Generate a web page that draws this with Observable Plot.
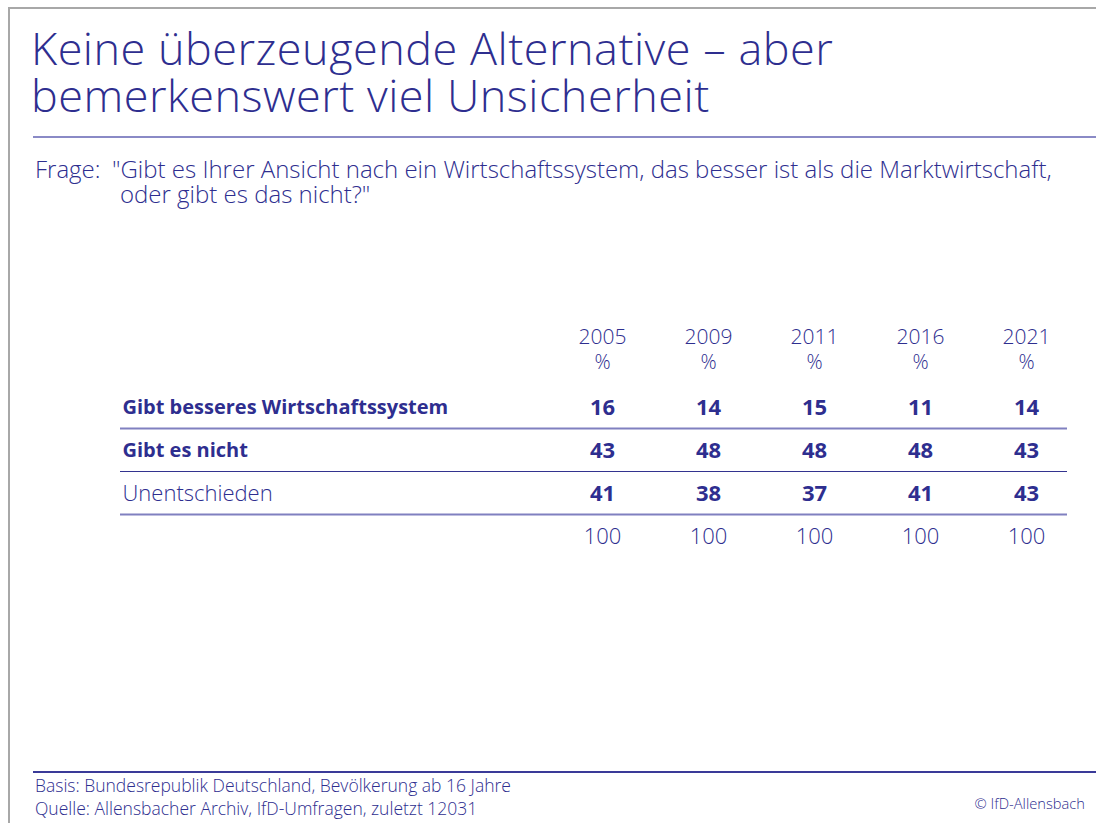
<!DOCTYPE html>
<html><head><meta charset="utf-8">
<script src="https://cdn.jsdelivr.net/npm/d3@7"></script>
<script src="https://cdn.jsdelivr.net/npm/@observablehq/plot@0.6"></script>
<style>
body{margin:0;background:#fff;font-family:"Open Sans",Lato,sans-serif;color:#2e2e8f;}
#page{position:relative;width:1096px;height:823px;overflow:hidden;}
#page div{white-space:nowrap}
#frameL{position:absolute;left:8px;top:7px;width:2px;height:816px;background:#a8a8a8}
#frameT{position:absolute;left:8px;top:7px;right:0;height:2px;background:#a8a8a8}
.title{position:absolute;left:31px;font-size:45px;font-weight:300;line-height:45px;letter-spacing:0.5px}
#rule1{position:absolute;left:33px;right:0;top:136px;height:2px;background:#8a8ac6}
.frage{position:absolute;font-size:24px;font-weight:300;line-height:24px}
#chart{position:absolute;left:0;top:300px}
#rule2{position:absolute;left:33px;right:0;top:771px;height:1.5px;background:#3a3a98}
.foot{position:absolute;left:35px;font-size:17.5px;font-weight:300;line-height:17.5px}
#copy{position:absolute;right:11px;top:796px;font-size:14.7px;font-weight:300;line-height:14.7px}
</style></head>
<body><div id="page">
<div id="frameL"></div><div id="frameT"></div>
<div class="title" style="top:25px">Keine überzeugende Alternative – aber</div>
<div class="title" style="top:72px">bemerkenswert viel Unsicherheit</div>
<div id="rule1"></div>
<div class="frage" style="left:35px;top:157px">Frage:</div>
<div class="frage" style="left:112px;top:157px">"Gibt es Ihrer Ansicht nach ein Wirtschaftssystem, das besser ist als die Marktwirtschaft,</div>
<div class="frage" style="left:120px;top:182px">oder gibt es das nicht?"</div>
<div id="chart"></div>
<div id="rule2"></div>
<div class="foot" style="top:777px">Basis: Bundesrepublik Deutschland, Bevölkerung ab 16 Jahre</div>
<div class="foot" style="top:800px">Quelle: Allensbacher Archiv, IfD-Umfragen, zuletzt 12031</div>
<div id="copy">© IfD-Allensbach</div>
</div>
<script>
const years = ["2005", "2009", "2011", "2016", "2021"];
const rows = ["Gibt besseres Wirtschaftssystem", "Gibt es nicht", "Unentschieden"];
const boldRows = ["Gibt besseres Wirtschaftssystem", "Gibt es nicht"];
const besser = [16, 14, 15, 11, 14];
const nicht = [43, 48, 48, 48, 43];
const unentschieden = [41, 38, 37, 41, 43];
const summe = [100, 100, 100, 100, 100];
const totalKey = "Summe";

const series = [besser, nicht, unentschieden];
const cells = [];
rows.forEach((r, i) => years.forEach((y, j) => cells.push({row: r, year: y, value: series[i][j]})));
const totals = years.map((y, j) => ({row: totalKey, year: y, value: summe[j]}));

const blue = "#2e2e8f";
const font = "'Open Sans', Lato, sans-serif";
const chart = Plot.plot({
  width: 1096, height: 260,
  marginLeft: 120, marginRight: 29, marginTop: 0, marginBottom: 0,
  x: {type: "point", domain: years, range: [600, 1027], padding: 0, axis: null},
  y: {type: "point", domain: [...rows, totalKey], range: [107, 236], padding: 0, axis: null},
  style: {fontFamily: font, color: blue, background: "transparent"},
  marks: [
    Plot.ruleY(rows, {y: d => d, dy: 21, stroke: (d, i) => i === 1 ? "#33338f" : "#8080c0", strokeWidth: (d, i) => i === 1 ? 1.2 : 1.8}),
    Plot.text(years, {x: d => d, frameAnchor: "top", dy: 29, text: d => d, fontSize: 21, fontWeight: 300, fill: blue}),
    Plot.text(years, {x: d => d, frameAnchor: "top", dy: 54, text: d => "%", fontSize: 20, fontWeight: 300, fill: blue}),
    Plot.text(rows.filter(r => boldRows.includes(r)), {y: d => d, frameAnchor: "left", dx: 2, textAnchor: "start", text: d => d, fontSize: 20, fontWeight: "bold", fill: blue}),
    Plot.text(rows.filter(r => !boldRows.includes(r)), {y: d => d, frameAnchor: "left", dx: 2, textAnchor: "start", text: d => d, fontSize: 22, fontWeight: 300, fill: blue}),
    Plot.text(cells, {x: "year", y: "row", text: d => String(d.value), fontSize: 22, fontWeight: "bold", fill: blue}),
    Plot.text(totals, {x: "year", y: "row", text: d => String(d.value), fontSize: 22, fontWeight: 300, fill: blue})
  ]
});
document.getElementById("chart").appendChild(chart);
</script>
</body></html>
